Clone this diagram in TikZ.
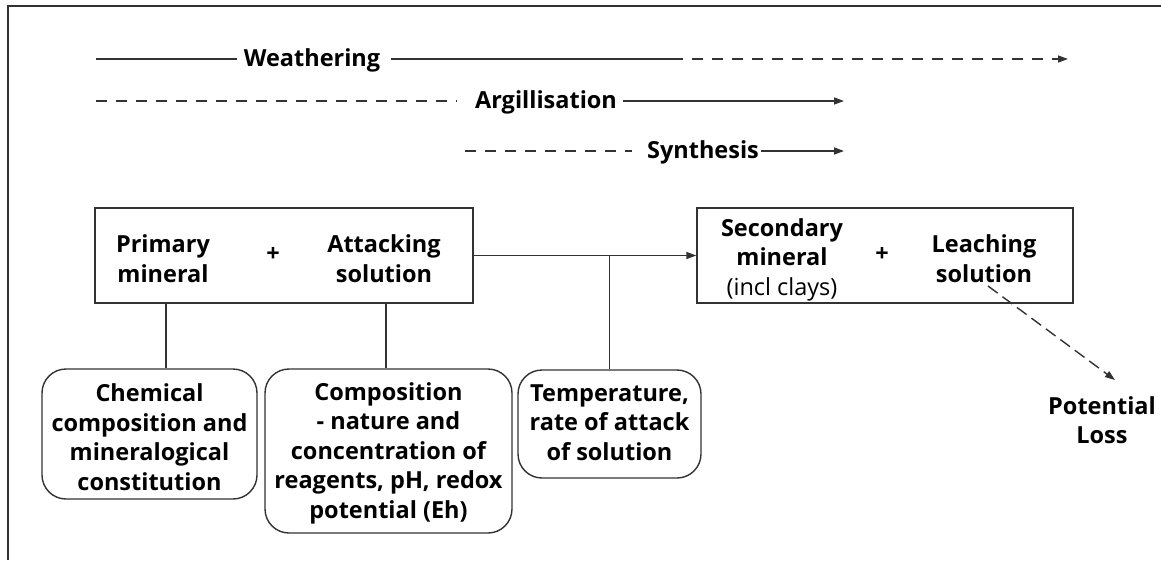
\documentclass[tikz,border=0pt]{standalone}
\usepackage{fontspec}
\setmainfont{Open Sans}
\usetikzlibrary{arrows.meta,calc}
\definecolor{linec}{RGB}{50,50,50}
\begin{document}
\begin{tikzpicture}[x=1pt,y=-1pt,
  lbl/.style={font=\bfseries\fontsize{23.5}{29.5}\selectfont, inner sep=0pt, align=center},
  ln/.style={draw=linec, line width=1.4pt},
  dsh/.style={ln, dash pattern=on 11pt off 9pt},
  tip/.style={-{Triangle[length=10pt,width=7pt]}},
  sqbox/.style={ln, rectangle, inner sep=0pt},
  rbox/.style={ln, rectangle, rounded corners=24pt, inner sep=0pt}
]
\useasboundingbox (0,0) rectangle (1161,560);
% frame
\draw[ln] (8,560) -- (8,6) -- (1161,6);

% Weathering
\coordinate (w0) at (96,59);
\coordinate (wm) at (672,59);
\coordinate (we) at (1068,59);
\node[lbl, anchor=base] (w) at (312,66) {Weathering};
\draw[ln] (w0) -- ($(w0 -| w.west)+(-7,0)$);
\draw[ln] ($(w.east|-w0)+(11,0)$) -- (wm);
\draw[dsh, tip] (wm) -- (we);

% Argillisation
\coordinate (a0) at (96,101);
\coordinate (ae) at (844,101);
\node[lbl, anchor=base] (a) at (546,108) {Argillisation};
\draw[dsh] (a0) -- ($(a0 -| a.west)+(-18,0)$);
\draw[ln, tip] ($(a.east|-a0)+(6,0)$) -- (ae);

% Synthesis
\coordinate (s0) at (465,151);
\coordinate (se) at (844,151);
\node[lbl, anchor=base] (s) at (703,158) {Synthesis};
\draw[dsh] (s0) -- ($(s0 -| s.west)+(-15,0)$);
\draw[ln, tip] ($(s.east|-s0)+(2,0)$) -- (se);

% main boxes
\node[sqbox, minimum width=378pt, minimum height=95pt] (b1) at (284,255.5) {};
\node[lbl] (pm) at (163,258.5) {Primary\\mineral};
\node[lbl] (p1) at (273,254) {+};
\node[lbl] (as) at (384,258.5) {Attacking\\solution};

\node[sqbox, minimum width=376pt, minimum height=95pt] (b2) at (885,255.5) {};
\node[lbl] (sm) at (782,259.5) {Secondary\\mineral\\{\mdseries (incl clays)}};
\node[lbl] (p2) at (882,254) {+};
\node[lbl] (ls) at (984,258.5) {Leaching\\solution};

\draw[ln, tip] (b1.east) -- (b2.west);

% bottom boxes
\node[rbox, minimum width=215pt, minimum height=130pt] (chem) at (149.5,434) {};
\node[lbl] (chemt) at (149.5,437) {Chemical\\composition and\\mineralogical\\constitution};
\node[rbox, minimum width=247pt, minimum height=164pt] (comp) at (388.5,451) {};
\node[lbl] (compt) at (388.5,453) {Composition\\- nature and\\concentration of\\reagents, pH, redox\\potential (Eh)};
\node[rbox, minimum width=183pt, minimum height=108pt] (temp) at (609.5,424) {};
\node[lbl] (tempt) at (609.5,422.5) {Temperature,\\rate of attack\\of solution};

\coordinate (c1) at (166,303);
\coordinate (c2) at (386,303);
\draw[ln] (c1) -- (c1 |- chem.north);
\draw[ln] (c2) -- (c2 |- comp.north);
\draw[ln] (temp.north) -- (temp.north |- b1.east);

% potential loss
\node[lbl] (pl) at (1102,420) {Potential\\Loss};
\coordinate (lsa) at (988,286);
\coordinate (pla) at (1115,380);
\draw[ln, dash pattern=on 12pt off 6pt, tip] (lsa) -- (pla);
\end{tikzpicture}
\end{document}
